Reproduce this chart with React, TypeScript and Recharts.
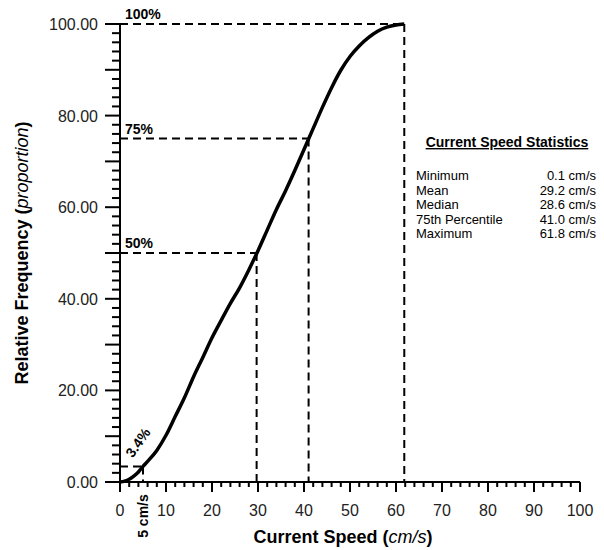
import { LineChart, Line, XAxis, YAxis, ReferenceLine, ReferenceDot } from 'recharts'

const speeds = [0, 1, 2, 3, 4, 5, 6, 8, 10, 12, 14, 16, 18, 20, 22, 24, 26, 28, 30, 32, 34, 36, 38, 40, 42, 44, 46, 48, 50, 52, 54, 56, 58, 60, 61.8]
const cumulative = [0, 0.2, 0.6, 1.3, 2.2, 3.4, 4.5, 6.9, 10.2, 14.3, 18.4, 23.0, 27.2, 31.5, 35.3, 39.0, 42.4, 46.3, 50.5, 55.0, 59.5, 63.6, 68.0, 72.6, 77.2, 81.8, 86.1, 89.9, 92.9, 95.2, 97.0, 98.4, 99.3, 99.8, 100]

// percentile markers: percent, speed where the curve reaches it, label
const markerPct = [100, 75, 50, 3.4]
const markerSpeed = [61.8, 41.0, 29.7, 5]
const markerLabels = ['100%', '75%', '50%', '3.4%']

const statNames = ['Minimum', 'Mean', 'Median', '75th Percentile', 'Maximum']
const statValues = ['0.1 cm/s', '29.2 cm/s', '28.6 cm/s', '41.0 cm/s', '61.8 cm/s']

const xTicks = Array.from({ length: 51 }, (_, i) => i * 2)
const yTicks = Array.from({ length: 51 }, (_, i) => i * 2)

const data = speeds.map((s, i) => ({ speed: s, pct: cumulative[i] }))

const FONT = '"Liberation Sans", Arial, Helvetica, sans-serif'

function XTick({ x, y, payload }: any) {
  const v = payload.value
  const major = v % 10 === 0
  return (
    <g>
      <line x1={x} x2={x} y1={y} y2={y + (major ? 10 : 5)} stroke="#000" strokeWidth={2} />
      {major && (
        <text x={x} y={y + 34} textAnchor="middle" fontSize={16} fontFamily={FONT} fill="#222">
          {v}
        </text>
      )}
    </g>
  )
}

function YTick({ x, y, payload }: any) {
  const v = payload.value
  const major = v % 10 === 0
  return (
    <g>
      <line x1={x - (major ? 15 : 8)} x2={x} y1={y} y2={y} stroke="#000" strokeWidth={2} />
      {v % 20 === 0 && (
        <text x={x - 22} y={y + 6} textAnchor="end" fontSize={16} fontFamily={FONT} fill="#222">
          {v.toFixed(2)}
        </text>
      )}
    </g>
  )
}

function XTitle({ viewBox }: any) {
  return (
    <text x={viewBox.x + viewBox.width / 2 - 7} y={viewBox.y + 61} textAnchor="middle" fontSize={18} fontFamily={FONT} fontWeight="bold" fill="#000">
      Current Speed (<tspan fontStyle="italic" fontWeight="normal">cm/s</tspan>)
    </text>
  )
}

function YTitle({ viewBox }: any) {
  const cx = viewBox.x + 28
  const cy = viewBox.y + viewBox.height / 2
  return (
    <text x={cx} y={cy} transform={`rotate(-90 ${cx} ${cy})`} textAnchor="middle" fontSize={18} fontFamily={FONT} fontWeight="bold" fill="#000">
      Relative Frequency (<tspan fontStyle="italic" fontWeight="normal">proportion</tspan>)
    </text>
  )
}

const dash = { stroke: '#000', strokeWidth: 2, strokeDasharray: '8 5' }

export default function App() {
  return (
    <div style={{ position: 'absolute', left: 0, top: 0, width: 604, height: 550, background: '#fff' }}>
      <LineChart width={604} height={550} data={data} margin={{ top: 24, right: 24, left: 0, bottom: 0 }}>
        <XAxis
          dataKey="speed"
          type="number"
          domain={[0, 100]}
          ticks={xTicks}
          interval={0}
          tickSize={0}
          tickMargin={0}
          tickLine={false}
          tick={<XTick />}
          axisLine={{ stroke: '#000', strokeWidth: 2 }}
          height={68}
          label={{ content: <XTitle /> }}
        />
        <YAxis
          type="number"
          domain={[0, 100]}
          ticks={yTicks}
          interval={0}
          tickSize={0}
          tickMargin={0}
          tickLine={false}
          tick={<YTick />}
          axisLine={{ stroke: '#000', strokeWidth: 2 }}
          width={120}
          label={{ content: <YTitle /> }}
        />
        {markerPct.map((p, i) => (
          <ReferenceLine key={'h' + i} segment={[{ x: 0, y: p }, { x: markerSpeed[i], y: p }]} {...dash} />
        ))}
        {markerPct.map((p, i) => (
          <ReferenceLine key={'v' + i} segment={[{ x: markerSpeed[i], y: p }, { x: markerSpeed[i], y: 0 }]} {...dash} />
        ))}
        {markerPct.slice(0, 3).map((p, i) => (
          <ReferenceDot
            key={'l' + i}
            x={0}
            y={p}
            r={0}
            stroke="none"
            label={({ viewBox }: any) => (
              <text x={viewBox.x + 5} y={viewBox.y - 5} fontSize={14} fontWeight="bold" fontFamily={FONT} fill="#000">
                {markerLabels[i]}
              </text>
            )}
          />
        ))}
        <ReferenceDot
          x={markerSpeed[3]}
          y={markerPct[3]}
          r={0}
          stroke="none"
          label={({ viewBox }: any) => {
            const cx = viewBox.x - 1
            const cy = viewBox.y - 21
            return (
              <text x={cx} y={cy} transform={`rotate(-55 ${cx} ${cy})`} textAnchor="middle" fontSize={14} fontWeight="bold" fontFamily={FONT} fill="#000">
                {markerLabels[3]}
              </text>
            )
          }}
        />
        <ReferenceDot
          x={markerSpeed[3]}
          y={0}
          r={0}
          stroke="none"
          label={({ viewBox }: any) => {
            const cx = viewBox.x + 5
            const cy = viewBox.y + 34
            return (
              <text x={cx} y={cy} transform={`rotate(-90 ${cx} ${cy})`} textAnchor="middle" fontSize={14} fontWeight="bold" fontFamily={FONT} fill="#000">
                {markerSpeed[3]} cm/s
              </text>
            )
          }}
        />
        <Line type="monotone" dataKey="pct" stroke="#000" strokeWidth={3.5} dot={false} isAnimationActive={false} />
      </LineChart>
      <svg width={604} height={550} style={{ position: 'absolute', left: 0, top: 0, pointerEvents: 'none' }}>
        <text x={507} y={147} textAnchor="middle" fontSize={14} fontWeight="bold" fontFamily={FONT} textDecoration="underline" fill="#000">
          Current Speed Statistics
        </text>
        {statNames.map((n, i) => (
          <g key={n}>
            <text x={416} y={180 + i * 14.5} fontSize={13} fontFamily={FONT} fill="#000">{n}</text>
            <text x={596} y={180 + i * 14.5} textAnchor="end" fontSize={13} fontFamily={FONT} fill="#000">{statValues[i]}</text>
          </g>
        ))}
      </svg>
    </div>
  )
}
